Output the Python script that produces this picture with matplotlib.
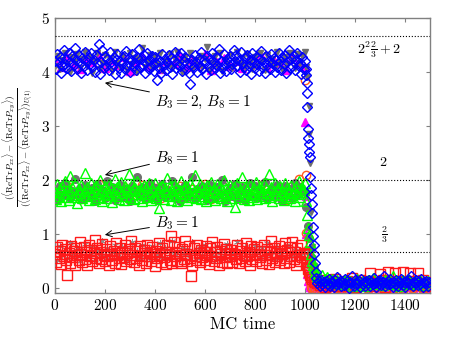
import numpy as np
import matplotlib
matplotlib.use('Agg')
import matplotlib.pyplot as plt

plt.rcParams['font.family'] = 'serif'
plt.rcParams['font.serif'] = ['cmr10', 'DejaVu Serif']
plt.rcParams['mathtext.fontset'] = 'cm'
plt.rcParams['axes.formatter.use_mathtext'] = True

# MC time grids
t_fine = np.arange(0, 1000, 5)
t_coarse = np.arange(0, 1000, 10)
t_sparse = np.arange(0, 1000, 25)
tail_fine = np.arange(1050, 1500, 5)
tail_coarse = np.arange(1050, 1500, 10)
tail_sparse = np.arange(1050, 1500, 20)

# --- B3=2, B8=1 run (blue diamonds) ---
blue_plateau = [
    4.21, 4.05, 4.33, 4.18, 4.27, 3.98, 4.12, 4.40, 4.15, 4.24, 4.08, 4.36, 4.19, 4.02, 4.29, 4.13, 4.44, 4.22, 4.06, 4.31,
    4.17, 3.99, 4.26, 4.11, 4.38, 4.20, 4.03, 4.28, 4.14, 4.35, 4.09, 4.23, 4.01, 4.32, 4.16, 4.52, 3.97, 4.19, 4.41, 4.07,
    4.30, 4.12, 4.24, 4.04, 4.37, 4.18, 4.10, 4.27, 3.96, 4.22, 4.34, 4.08, 4.20, 3.99, 4.15, 4.29, 4.05, 4.39, 4.13, 4.26,
    4.00, 4.21, 4.33, 4.11, 4.17, 4.03, 4.28, 4.42, 4.09, 4.24, 4.14, 4.31, 3.98, 4.19, 4.36, 4.06, 4.23, 4.12, 4.30, 4.02,
    4.27, 4.16, 3.86, 4.08, 4.21, 3.99, 4.34, 4.13, 4.25, 4.04, 4.18, 4.32, 4.10, 4.26, 3.97, 4.22, 4.37, 4.07, 4.15, 4.29,
    4.11, 4.35, 4.02, 4.20, 4.28, 4.06, 4.17, 3.98, 3.78, 4.14, 4.23, 4.09, 4.31, 4.19, 4.01, 4.26, 4.12, 4.38, 4.05, 4.22,
    4.16, 3.96, 4.30, 4.10, 4.24, 4.03, 4.36, 4.18, 4.07, 4.27, 4.13, 4.43, 3.99, 4.21, 4.08, 4.33, 4.15, 4.02, 4.25, 4.19,
    4.29, 4.06, 4.14, 4.40, 4.20, 4.32, 4.11, 4.23, 4.00, 4.37, 4.17, 4.09, 4.26, 4.04, 4.31, 4.12, 4.22, 3.97, 4.35, 4.18,
    4.07, 4.28, 4.15, 4.02, 4.24, 4.39, 4.10, 4.19, 3.98, 4.30, 4.13, 4.21, 4.05, 4.34, 4.16, 4.26, 4.01, 4.23, 4.09, 4.36,
    4.20, 4.03, 4.27, 4.14, 4.32, 3.99, 4.18, 4.41, 4.08, 4.25, 4.12, 4.29, 4.04, 4.22, 4.35, 4.11, 4.17, 3.97, 4.28, 4.06,
]
blue_trans_t = [1000, 1003, 1005, 1007, 1008, 1010, 1012, 1014, 1016, 1018, 1020, 1022, 1024, 1026, 1028, 1030,
                1032, 1034, 1036, 1038, 1040, 1043, 1046]
blue_trans = [4.20, 4.05, 3.95, 3.80, 3.62, 3.35, 2.95, 2.78, 2.66, 2.52, 2.43, 2.05, 1.85, 1.72, 1.55, 1.38,
              1.13, 0.95, 0.80, 0.62, 0.45, 0.30, 0.18]
blue_tail = [
    0.08, 0.12, 0.03, 0.15, 0.06, 0.10, 0.01, 0.13, 0.07, 0.17, 0.04, 0.11, 0.09, 0.02, 0.14, 0.06, 0.19, 0.08, 0.12, 0.03,
    0.10, 0.05, 0.16, 0.07, 0.13, 0.00, 0.11, 0.08, 0.22, 0.04, 0.14, 0.09, 0.06, 0.12, 0.02, 0.17, 0.07, 0.10, 0.04, 0.13,
    0.08, 0.15, 0.03, 0.11, 0.06, 0.18, 0.09, 0.01, 0.12, 0.07, 0.14, 0.05, 0.10, 0.21, 0.03, 0.09, 0.13, 0.06, 0.16, 0.08,
    0.02, 0.11, 0.07, 0.14, 0.04, 0.12, 0.09, 0.17, 0.05, 0.10, 0.01, 0.13, 0.08, 0.15, 0.06, 0.22, 0.03, 0.11, 0.09, 0.14,
    0.05, 0.12, 0.07, 0.16, 0.02, 0.10, 0.08, 0.13, 0.04, 0.11,
]

# --- B8=1 run (green triangles) ---
green_plateau = [
    1.78, 1.65, 1.92, 1.71, 1.84, 1.60, 1.88, 1.74, 1.97, 1.68, 1.81, 1.63, 2.08, 1.76, 1.86, 1.69, 1.94, 1.72, 1.58, 1.83,
    1.75, 1.90, 1.66, 1.80, 2.12, 1.70, 1.87, 1.62, 1.79, 1.95, 1.73, 1.85, 1.64, 1.91, 1.77, 1.68, 1.99, 1.82, 1.61, 1.74,
    1.89, 1.67, 1.80, 1.93, 1.72, 1.84, 1.59, 1.77, 2.02, 1.70, 1.86, 1.65, 1.81, 1.96, 1.75, 1.63, 1.88, 1.71, 1.83, 2.10,
    1.69, 1.79, 1.92, 1.64, 1.85, 1.73, 1.98, 1.66, 1.82, 1.76, 1.61, 1.90, 1.74, 1.87, 1.68, 1.94, 1.78, 1.62, 1.84, 1.71,
    1.95, 1.67, 1.80, 1.48, 1.86, 1.73, 1.91, 1.65, 1.83, 1.77, 2.04, 1.70, 1.88, 1.63, 1.79, 1.93, 1.72, 1.85, 1.60, 1.81,
    1.76, 1.97, 1.68, 1.84, 1.74, 1.89, 1.62, 1.80, 1.95, 1.69, 1.86, 1.73, 2.09, 1.66, 1.82, 1.78, 1.92, 1.64, 1.87, 1.71,
    1.83, 1.60, 1.90, 1.75, 1.68, 1.96, 1.79, 1.85, 1.63, 1.77, 1.93, 1.70, 1.88, 1.66, 1.81, 1.99, 1.72, 1.84, 1.61, 1.76,
    1.91, 1.67, 1.80, 1.86, 1.49, 1.74, 1.94, 1.69, 1.82, 1.78, 2.06, 1.65, 1.87, 1.72, 1.83, 1.62, 1.90, 1.76, 1.68, 1.85,
    1.73, 1.96, 1.64, 1.81, 1.89, 1.70, 1.77, 1.92, 1.66, 1.84, 1.75, 2.11, 1.69, 1.86, 1.61, 1.79, 1.94, 1.72, 1.83, 1.67,
    1.88, 1.74, 1.80, 1.63, 1.95, 1.71, 1.85, 1.78, 1.66, 1.91, 1.76, 1.82, 1.60, 1.89, 1.73, 1.97, 1.68, 1.84, 1.77, 1.81,
]
green_trans_t = [1000, 1004, 1008, 1012, 1016, 1020, 1024, 1028, 1032, 1036, 1040, 1044, 1048]
green_trans = [1.94, 1.60, 1.35, 1.10, 0.98, 0.85, 0.62, 0.50, 0.42, 0.36, 0.30, 0.26, 0.22]
green_tail = [
    0.22, 0.18, 0.24, 0.16, 0.20, 0.12, 0.17, 0.09, 0.14, 0.06, 0.11, 0.15, 0.08, 0.13, 0.04,
    0.10, 0.16, 0.07, 0.12, 0.03, 0.14, 0.09, 0.18, 0.06, 0.11, 0.13, 0.05, 0.15, 0.08, 0.10,
    0.21, 0.07, 0.12, 0.04, 0.14, 0.09, 0.17, 0.06, 0.11, 0.13, 0.08, 0.15, 0.05, 0.10, 0.12,
]

# --- B3=1 run (red squares) ---
red_plateau = [
    0.62, 0.48, 0.75, 0.55, 0.68, 0.44, 0.80, 0.58, 0.71, 0.51, 0.24, 0.65, 0.46, 0.78, 0.57, 0.69, 0.42, 0.73, 0.60, 0.52,
    0.85, 0.63, 0.47, 0.76, 0.54, 0.67, 0.43, 0.79, 0.59, 0.70, 0.50, 0.64, 0.88, 0.56, 0.74, 0.45, 0.66, 0.53, 0.81, 0.61,
    0.49, 0.72, 0.58, 0.42, 0.77, 0.63, 0.52, 0.69, 0.46, 0.83, 0.60, 0.55, 0.74, 0.44, 0.67, 0.57, 0.79, 0.50, 0.65, 0.71,
    0.53, 0.86, 0.61, 0.47, 0.73, 0.56, 0.68, 0.43, 0.78, 0.59, 0.51, 0.70, 0.64, 0.45, 0.80, 0.58, 0.66, 0.49, 0.75, 0.62,
    0.41, 0.69, 0.55, 0.82, 0.60, 0.48, 0.74, 0.57, 0.67, 0.44, 0.79, 0.63, 0.52, 0.96, 0.46, 0.84, 0.58, 0.65, 0.50, 0.76,
    0.60, 0.45, 0.72, 0.54, 0.87, 0.62, 0.49, 0.77, 0.56, 0.21, 0.43, 0.74, 0.59, 0.51, 0.80, 0.64, 0.47, 0.70, 0.57, 0.66,
    0.52, 0.78, 0.61, 0.44, 0.73, 0.58, 0.85, 0.50, 0.67, 0.55, 0.76, 0.42, 0.69, 0.63, 0.48, 0.81, 0.57, 0.72, 0.46, 0.64,
    0.59, 0.70, 0.47, 0.62, 0.62, 0.53, 0.79, 0.45, 0.68, 0.56, 0.74, 0.61, 0.50, 0.83, 0.58, 0.66, 0.43, 0.77, 0.54, 0.71,
    0.63, 0.49, 0.75, 0.60, 0.57, 0.69, 0.46, 0.80, 0.60, 0.52, 0.72, 0.44, 0.67, 0.86, 0.55, 0.73, 0.48, 0.64, 0.58, 0.78,
    0.51, 0.68, 0.62, 0.45, 0.82, 0.56, 0.70, 0.47, 0.76, 0.59, 0.84, 0.53, 0.66, 0.43, 0.74, 0.61, 0.50, 0.79, 0.57, 0.65,
]
red_trans_t = [1000, 1003, 1006, 1009, 1012, 1016, 1020, 1025, 1030, 1036, 1042, 1048]
red_trans = [0.62, 0.55, 0.48, 0.42, 0.35, 0.30, 0.24, 0.20, 0.16, 0.13, 0.11, 0.09]
red_tail = [
    0.10, 0.05, 0.14, 0.02, 0.08, 0.12, 0.04, 0.16, 0.07, 0.11, 0.03, 0.09, 0.13, 0.06, 0.18,
    0.01, 0.10, 0.15, 0.05, 0.08, 0.12, 0.28, 0.04, 0.11, 0.07, 0.26, 0.14, 0.02, 0.29, 0.09,
    0.06, 0.27, 0.13, 0.03, 0.30, 0.10, 0.08, 0.28, 0.12, 0.05, 0.27, 0.09, 0.15, 0.04, 0.11,
]

# --- second set of runs (grey), drawn underneath ---
grey_tri_plateau = [
    4.12, 4.30, 4.05, 4.22, 4.36, 4.15, 4.01, 4.27, 4.19, 4.34, 4.08, 4.24, 4.38, 4.11, 4.28, 3.99, 4.20, 4.35, 4.06, 4.17,
    4.32, 4.13, 4.25, 4.02, 4.37, 4.16, 4.09, 4.29, 4.21, 4.04, 4.36, 4.14, 4.26, 4.00, 4.23, 4.45, 4.10, 4.18, 4.31, 4.07,
    4.27, 4.15, 4.35, 4.03, 4.20, 4.12, 4.33, 4.08, 4.24, 4.38, 4.16, 4.01, 4.28, 4.19, 4.35, 4.06, 4.22, 4.13, 4.30, 4.10,
    4.25, 4.46, 4.04, 4.17, 4.29, 4.11, 4.36, 4.02, 4.23, 4.14, 4.32, 4.07, 4.20, 4.37, 4.15, 4.26, 4.09, 4.34, 4.18, 4.05,
    4.28, 4.12, 4.36, 4.21, 4.03, 4.31, 4.16, 4.24, 4.10, 4.37, 4.19, 4.06, 4.27, 4.14, 4.35, 4.22, 4.08, 4.33, 4.17, 4.30,
]
grey_tri_trans_t = [1000, 1005, 1010, 1015, 1017, 1020, 1025, 1030, 1038, 1045]
grey_tri_trans = [4.38, 4.10, 3.90, 3.37, 2.85, 2.31, 1.40, 0.75, 0.35, 0.18]
grey_tri_tail = [0.10, 0.05, 0.14, 0.08, 0.12, 0.03, 0.11, 0.07, 0.15, 0.09, 0.04, 0.13,
                 0.06, 0.10, 0.12, 0.02, 0.09, 0.14, 0.07, 0.11, 0.05, 0.13, 0.08]

grey_circ_plateau = [
    1.76, 1.62, 1.88, 1.70, 1.95, 1.82, 1.66, 1.79, 2.02, 1.73, 1.85, 1.64, 1.91, 1.77, 1.69, 1.84, 1.60, 1.93, 1.75, 1.81,
    1.67, 1.98, 1.72, 1.86, 1.63, 1.80, 1.90, 1.68, 1.83, 1.74, 1.61, 1.89, 1.78, 2.05, 1.71, 1.87, 1.65, 1.79, 1.94, 1.70,
    1.84, 1.62, 1.76, 1.92, 1.68, 1.82, 1.73, 1.97, 1.66, 1.85, 1.60, 1.80, 1.91, 1.69, 1.77, 2.06, 1.64, 1.83, 1.72, 1.88,
    1.75, 1.63, 1.90, 1.81, 1.67, 1.86, 1.74, 1.99, 1.61, 1.78, 1.84, 1.70, 1.93, 1.65, 1.80, 1.87, 1.62, 1.76, 1.95, 1.71,
    1.89, 1.66, 1.82, 1.73, 1.96, 1.64, 1.79, 1.85, 1.69, 1.91, 1.77, 1.61, 1.88, 1.74, 1.83, 1.67, 1.94, 1.72, 1.86, 1.80,
]
grey_circ_trans_t = [1000, 1006, 1012, 1018, 1024, 1030, 1036, 1042, 1048]
grey_circ_trans = [1.78, 1.50, 1.15, 0.92, 0.72, 0.55, 0.40, 0.28, 0.18]
grey_circ_tail = [0.12, 0.07, 0.15, 0.04, 0.10, 0.13, 0.06, 0.11, 0.02, 0.09, 0.14, 0.05,
                  0.12, 0.08, 0.16, 0.03, 0.10, 0.07, 0.13, 0.09, 0.04, 0.11, 0.06]

grey_star_plateau = [
    0.66, 0.52, 0.78, 0.60, 0.71, 0.55, 0.83, 0.63, 0.58, 0.74, 0.50, 0.69, 0.81, 0.57, 0.65, 0.76, 0.53, 0.70, 0.62, 0.86,
    0.59, 0.73, 0.54, 0.67, 0.80, 0.61, 0.56, 0.75, 0.64, 0.51, 0.72, 0.84, 0.58, 0.68, 0.55, 0.79, 0.63, 0.70, 0.52, 0.77,
    0.66, 0.60, 0.82, 0.57, 0.73, 0.54, 0.69, 0.87, 0.61, 0.65, 0.53, 0.76, 0.62, 0.71, 0.58, 0.84, 0.67, 0.55, 0.74, 0.60,
    0.79, 0.56, 0.68, 0.63, 0.51, 0.77, 0.65, 0.72, 0.59, 0.81, 0.54, 0.70, 0.62, 0.85, 0.57, 0.66, 0.75, 0.52, 0.69, 0.61,
    0.78, 0.64, 0.56, 0.73, 0.60, 0.82, 0.58, 0.67, 0.53, 0.76, 0.63, 0.71, 0.55, 0.80, 0.66, 0.59, 0.74, 0.62, 0.68, 0.57,
]
grey_star_trans_t = [1000, 1008, 1016, 1024, 1032, 1040, 1048]
grey_star_trans = [0.65, 0.50, 0.38, 0.28, 0.20, 0.15, 0.10]
grey_star_tail = [0.08, 0.13, 0.05, 0.10, 0.15, 0.03, 0.09, 0.12, 0.06, 0.11, 0.14, 0.04,
                  0.10, 0.07, 0.13, 0.02, 0.09, 0.12, 0.05, 0.08, 0.11, 0.06, 0.10]

magenta_plateau = [4.20, 4.10, 4.28, 4.15, 4.05, 4.25, 4.18, 4.32, 4.08, 4.22, 4.13, 4.27, 4.02, 4.19,
                   4.30, 4.11, 4.24, 4.06, 4.21, 4.16, 4.29, 4.09, 4.23, 4.14, 4.33, 4.04, 4.18, 4.26,
                   4.12, 4.20, 4.07, 4.25, 4.15, 4.31, 4.10, 4.22, 4.17, 4.03, 4.28, 4.19]
magenta_trans_t = [1000, 1002, 1004, 1006, 1008, 1010, 1014, 1018, 1022, 1030, 1040]
magenta_trans = [4.10, 3.07, 1.70, 1.00, 0.45, 0.25, 0.12, 0.05, 0.02, 0.00, -0.02]
magenta_tail = [-0.03, 0.01, -0.05, 0.03, -0.02, 0.00, -0.04, 0.02, -0.01, 0.04, -0.03, 0.01,
                -0.05, 0.02, 0.00, -0.02, 0.03, -0.04, 0.01, -0.01, 0.02, -0.03, 0.00]

orange_plateau = [1.80, 1.70, 1.88, 1.75, 1.65, 1.85, 1.78, 1.92, 1.68, 1.82, 1.73, 1.87, 1.62, 1.79,
                  1.90, 1.71, 1.84, 1.66, 1.81, 1.76, 1.89, 1.69, 1.83, 1.74, 1.93, 1.64, 1.78, 1.86,
                  1.72, 1.80, 1.67, 1.85, 1.75, 1.91, 1.70, 1.82, 1.77, 1.63, 1.88, 2.02]
orange_trans_t = [1000, 1003, 1006, 1009, 1012, 1016, 1020, 1025, 1030, 1036, 1042]
orange_trans = [3.85, 2.09, 1.02, 0.70, 0.40, 0.20, 0.10, 0.02, -0.02, -0.04, -0.05]
orange_tail = [-0.04, -0.06, -0.02, -0.05, 0.00, -0.03, -0.06, -0.01, -0.04, -0.05, -0.02, -0.06,
               -0.03, 0.01, -0.05, -0.04, -0.02, -0.06, -0.03, -0.01, -0.05, -0.04, -0.02]

# reference values
ref_levels = [4 * 2 / 3 + 2, 2, 2 / 3]


def series(t_pl, pl, t_tr, tr, t_tl, tl):
    x = np.concatenate([t_pl, t_tr, t_tl])
    y = np.concatenate([pl, tr, tl])
    return x, y


fig = plt.figure(figsize=(4.57, 3.42), dpi=100)
ax = fig.add_axes([0.12, 0.143, 0.821, 0.804])

open_kw = dict(linestyle='none', markerfacecolor='none', markeredgewidth=1.0)

x, y = series(t_sparse, magenta_plateau, magenta_trans_t, magenta_trans, tail_sparse, magenta_tail)
ax.plot(x, y, '^', color='#ff00ff', ms=5.5, linestyle='none', zorder=1)
x, y = series(t_sparse, orange_plateau, orange_trans_t, orange_trans, tail_sparse, orange_tail)
ax.plot(x, y, 'o', color='#ff5a1e', ms=6, zorder=1, **open_kw)
x, y = series(t_coarse, grey_tri_plateau, grey_tri_trans_t, grey_tri_trans, tail_sparse, grey_tri_tail)
ax.plot(x, y, 'v', color='#6e6e6e', ms=5, linestyle='none', zorder=2)
x, y = series(t_coarse, grey_circ_plateau, grey_circ_trans_t, grey_circ_trans, tail_sparse, grey_circ_tail)
ax.plot(x, y, 'o', color='#707070', ms=5.5, linestyle='none', zorder=2)
x, y = series(t_coarse, grey_star_plateau, grey_star_trans_t, grey_star_trans, tail_sparse, grey_star_tail)
ax.plot(x, y, marker=(6, 2, 0), color='#909090', ms=5, linestyle='none', mew=0.6, zorder=2)

x, y = series(t_fine, red_plateau, red_trans_t, red_trans, tail_coarse, red_tail)
ax.plot(x, y, 's', color='#ff1a1a', ms=6.5, zorder=3, **open_kw)
x, y = series(t_fine, green_plateau, green_trans_t, green_trans, tail_coarse, green_tail)
ax.plot(x, y, '^', color='#00ff00', ms=6.5, zorder=4, **open_kw)
x, y = series(t_fine, blue_plateau, blue_trans_t, blue_trans, tail_fine, blue_tail)
ax.plot(x, y, 'D', color='#0000ff', ms=5, zorder=5, **open_kw)

for lev in ref_levels:
    ax.axhline(lev, color='black', linestyle=':', linewidth=0.8, zorder=6)

ax.text(1296, 4.41, r'$2^2\frac{2}{3}+2$', fontsize=10, ha='center', va='center')
ax.text(1312, 2.33, r'$2$', fontsize=10, ha='center', va='center')
ax.text(1316, 0.98, r'$\frac{2}{3}$', fontsize=10, ha='center', va='center')

arrow = dict(arrowstyle='->', color='black', lw=0.7, shrinkA=2, shrinkB=0)
ax.annotate(r'$B_3=2,\, B_8=1$', xy=(200, 3.80), xytext=(400, 3.43), fontsize=11,
            ha='left', va='center', arrowprops=arrow)
ax.annotate(r'$B_8=1$', xy=(200, 2.09), xytext=(400, 2.41), fontsize=11,
            ha='left', va='center', arrowprops=arrow)
ax.annotate(r'$B_3=1$', xy=(200, 0.98), xytext=(400, 1.20), fontsize=11,
            ha='left', va='center', arrowprops=arrow)

ax.set_xlim(0, 1500)
ax.set_ylim(-0.1, 5)
ax.set_xticks(range(0, 1500, 200))
ax.set_yticks(range(0, 6))
ax.tick_params(direction='in', top=True, right=True, labelsize=11, color='#808080', length=3)
for s in ax.spines.values():
    s.set_color('#808080')
    s.set_linewidth(1.0)

ax.set_xlabel('MC time', fontsize=12, labelpad=3)
ax.set_ylabel(r'$\frac{(\langle \mathrm{ReTr}P_{xz}\rangle - \langle \mathrm{ReTr}P_{xy}\rangle)}'
              r'{(\langle \mathrm{ReTr}P_{xz}\rangle - \langle \mathrm{ReTr}P_{xy}\rangle)_{U(1)}}$',
              fontsize=9.5)
ax.yaxis.set_label_coords(-0.05, 0.53)

fig.savefig('out.png', dpi=100)
